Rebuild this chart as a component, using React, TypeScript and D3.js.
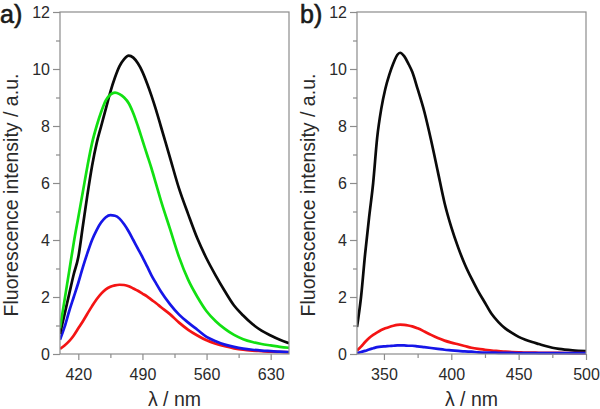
import { useEffect, useRef } from "react";
import * as d3 from "d3";

// panel a) emission spectra, 400-650 nm
const waveA = [400, 405, 410, 415, 420, 425, 430, 435, 440, 445, 450, 455, 460, 465, 470, 475, 480, 485, 490, 495, 500, 505, 510, 520, 530, 540, 550, 560, 570, 580, 590, 600, 610, 620, 630, 640, 650];
const blackA = [0.7, 1.4, 2.1, 2.8, 3.4, 4.5, 5.6, 6.6, 7.4, 8.0, 8.6, 9.2, 9.7, 10.1, 10.35, 10.47, 10.4, 10.2, 9.9, 9.5, 9.05, 8.55, 8.0, 6.9, 5.8, 4.9, 4.05, 3.35, 2.75, 2.2, 1.7, 1.35, 1.05, 0.82, 0.65, 0.5, 0.38];
const greenA = [0.9, 1.9, 2.9, 3.9, 4.8, 5.7, 6.6, 7.4, 8.0, 8.5, 8.9, 9.1, 9.17, 9.12, 9.0, 8.8, 8.45, 8.0, 7.5, 7.0, 6.5, 5.95, 5.4, 4.4, 3.4, 2.6, 2.0, 1.5, 1.15, 0.88, 0.67, 0.52, 0.42, 0.35, 0.3, 0.25, 0.22];
const blueA = [0.5, 0.95, 1.5, 2.0, 2.5, 3.05, 3.55, 4.0, 4.35, 4.62, 4.8, 4.87, 4.85, 4.75, 4.55, 4.3, 4.0, 3.7, 3.4, 3.08, 2.75, 2.47, 2.2, 1.75, 1.38, 1.1, 0.85, 0.6, 0.45, 0.33, 0.25, 0.19, 0.15, 0.12, 0.1, 0.08, 0.07];
const redA = [0.18, 0.3, 0.45, 0.65, 0.9, 1.15, 1.42, 1.68, 1.92, 2.12, 2.27, 2.36, 2.41, 2.43, 2.42, 2.38, 2.3, 2.22, 2.12, 2.02, 1.9, 1.78, 1.65, 1.4, 1.1, 0.85, 0.65, 0.48, 0.36, 0.27, 0.2, 0.15, 0.12, 0.1, 0.08, 0.07, 0.06];

// panel b) emission spectra, 330-500 nm
const waveB = [330, 333, 336, 339, 342, 345, 348, 351, 354, 357, 360, 362, 365, 368, 371, 375, 380, 385, 390, 395, 400, 405, 410, 415, 420, 425, 430, 435, 440, 445, 450, 455, 460, 465, 470, 475, 480, 490, 500];
const blackB = [0.95, 2.0, 3.5, 4.8, 6.0, 7.6, 8.6, 9.3, 9.8, 10.2, 10.5, 10.57, 10.45, 10.2, 9.9, 9.3, 8.5, 7.5, 6.4, 5.3, 4.45, 3.75, 3.15, 2.65, 2.2, 1.8, 1.4, 1.12, 0.9, 0.74, 0.6, 0.5, 0.42, 0.35, 0.28, 0.22, 0.18, 0.13, 0.1];
const redB = [0.12, 0.26, 0.42, 0.56, 0.67, 0.76, 0.84, 0.9, 0.95, 0.99, 1.02, 1.03, 1.02, 1.0, 0.97, 0.9, 0.79, 0.67, 0.56, 0.47, 0.4, 0.34, 0.28, 0.22, 0.18, 0.15, 0.12, 0.1, 0.08, 0.07, 0.06, 0.05, 0.05, 0.04, 0.04, 0.04, 0.04, 0.03, 0.03];
const blueB = [0.03, 0.07, 0.11, 0.16, 0.2, 0.24, 0.26, 0.27, 0.28, 0.29, 0.3, 0.3, 0.3, 0.29, 0.29, 0.27, 0.24, 0.21, 0.18, 0.15, 0.13, 0.11, 0.09, 0.08, 0.06, 0.05, 0.05, 0.04, 0.04, 0.04, 0.03, 0.03, 0.03, 0.03, 0.03, 0.03, 0.03, 0.03, 0.03];

const yMajor = [0, 2, 4, 6, 8, 10, 12];
const yMinor = [1, 3, 5, 7, 9, 11];
const xMajorA = [420, 490, 560, 630];
const xMinorA = [455, 525, 595];
const xMajorB = [350, 400, 450, 500];
const xMinorB = [375, 425, 475];

const COLORS = { black: "#0a0a0a", green: "#12e012", blue: "#1616e8", red: "#f41414" };
const FONT = "'Liberation Sans', Arial, sans-serif";

interface Panel {
  label: string;
  labelX: number;
  left: number;
  right: number;
  domain: [number, number];
  waves: number[];
  series: { values: number[]; color: string }[];
  major: number[];
  minor: number[];
}

const panels: Panel[] = [
  {
    label: "a)",
    labelX: 0,
    left: 60,
    right: 289,
    domain: [400, 650],
    waves: waveA,
    series: [
      { values: redA, color: COLORS.red },
      { values: blueA, color: COLORS.blue },
      { values: blackA, color: COLORS.black },
      { values: greenA, color: COLORS.green }
    ],
    major: xMajorA,
    minor: xMinorA
  },
  {
    label: "b)",
    labelX: 300,
    left: 357,
    right: 586,
    domain: [330, 500],
    waves: waveB,
    series: [
      { values: blackB, color: COLORS.black },
      { values: redB, color: COLORS.red },
      { values: blueB, color: COLORS.blue }
    ],
    major: xMajorB,
    minor: xMinorB
  }
];

const TOP = 12;
const BOTTOM = 354;

export default function App() {
  const ref = useRef<SVGSVGElement | null>(null);

  useEffect(() => {
    if (!ref.current) return;
    const svg = d3.select(ref.current);
    svg.selectAll("*").remove();

    const y = d3.scaleLinear().domain([0, 12]).range([BOTTOM, TOP]);

    panels.forEach((p, i) => {
      const x = d3.scaleLinear().domain(p.domain).range([p.left, p.right]);
      const g = svg.append("g");
      const clipId = `clip-${i}`;
      svg
        .append("clipPath")
        .attr("id", clipId)
        .append("rect")
        .attr("x", p.left)
        .attr("y", TOP)
        .attr("width", p.right - p.left)
        .attr("height", BOTTOM - TOP + 1);

      // curves
      const line = d3
        .line<number>()
        .x((_, k) => x(p.waves[k]))
        .y((v) => y(v))
        .curve(d3.curveMonotoneX);
      g.append("g")
        .attr("clip-path", `url(#${clipId})`)
        .selectAll("path")
        .data(p.series)
        .join("path")
        .attr("d", (s) => line(s.values))
        .attr("fill", "none")
        .attr("stroke", (s) => s.color)
        .attr("stroke-width", 2.7)
        .attr("stroke-linejoin", "round");

      // frame
      g.append("rect")
        .attr("x", p.left)
        .attr("y", TOP)
        .attr("width", p.right - p.left)
        .attr("height", BOTTOM - TOP)
        .attr("fill", "none")
        .attr("stroke", "#8c8c8c")
        .attr("stroke-width", 1.2);

      // y axis
      const yAx = g.append("g").attr("transform", `translate(${p.left},0)`);
      yAx.call(d3.axisLeft(y).tickValues(yMajor).tickSize(7).tickPadding(3).tickFormat(d3.format("d")));
      const yMin = g.append("g").attr("transform", `translate(${p.left},0)`);
      yMin.call(d3.axisLeft(y).tickValues(yMinor).tickSize(4).tickFormat(() => ""));

      // x axis
      const xAx = g.append("g").attr("transform", `translate(0,${BOTTOM})`);
      xAx.call(d3.axisBottom(x).tickValues(p.major).tickSize(6).tickPadding(9).tickFormat(d3.format("d")));
      const xMin = g.append("g").attr("transform", `translate(0,${BOTTOM})`);
      xMin.call(d3.axisBottom(x).tickValues(p.minor).tickSize(4).tickFormat(() => ""));

      [yAx, yMin, xAx, xMin].forEach((a) => {
        a.select(".domain").remove();
        a.selectAll(".tick line").attr("stroke", "#8c8c8c").attr("stroke-width", 1.2);
        a.selectAll(".tick text")
          .attr("fill", "#2a2a2a")
          .style("font-family", FONT)
          .style("font-size", "16px");
      });

      // axis titles
      g.append("text")
        .attr("x", (p.left + p.right) / 2)
        .attr("y", 406)
        .attr("text-anchor", "middle")
        .attr("fill", "#2a2a2a")
        .style("font-family", FONT)
        .style("font-size", "19.5px")
        .text("λ / nm");

      g.append("text")
        .attr("transform", `translate(${p.left - 42},${195}) rotate(-90)`)
        .attr("text-anchor", "middle")
        .attr("fill", "#2a2a2a")
        .style("font-family", FONT)
        .style("font-size", "19.5px")
        .text("Fluorescence intensity / a.u.");

      // panel label
      g.append("text")
        .attr("x", p.labelX)
        .attr("y", 23)
        .attr("fill", "#1a1a1a")
        .attr("stroke", "#1a1a1a")
        .attr("stroke-width", 0.6)
        .style("font-family", FONT)
        .style("font-size", "25px")
        .text(p.label);
    });
  }, []);

  return (
    <svg
      ref={ref}
      width={600}
      height={409}
      style={{ position: "absolute", left: 0, top: 0, background: "#fff" }}
    />
  );
}
